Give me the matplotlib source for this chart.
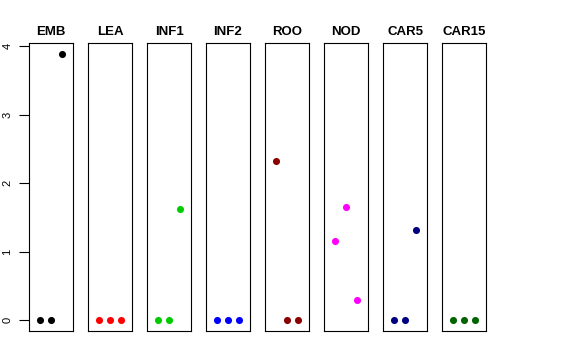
import matplotlib
matplotlib.use("Agg")
import matplotlib.pyplot as plt

plt.rcParams['font.family'] = ['Liberation Sans', 'DejaVu Sans']

categories = ["EMB", "LEA", "INF1", "INF2", "ROO", "NOD", "CAR5", "CAR15"]
values = {
    "EMB":   [0.0, 0.0, 3.89],
    "LEA":   [0.0, 0.0, 0.0],
    "INF1":  [0.0, 0.0, 1.62],
    "INF2":  [0.0, 0.0, 0.0],
    "ROO":   [2.33, 0.0, 0.0],
    "NOD":   [1.16, 1.66, 0.29],
    "CAR5":  [0.0, 0.0, 1.32],
    "CAR15": [0.0, 0.0, 0.0],
}
colors = ["#000000", "#FF0000", "#00CD00", "#0000FF", "#8B0000", "#FF00FF", "#000080", "#006400"]
yticks = [0, 1, 2, 3, 4]

fig = plt.figure(figsize=(5.76, 3.6), dpi=100)
W, H = 576, 360
left0, step, pw = 29, 59, 44
top, bottom = 43, 331
allv = [v for c in categories for v in values[c]]
vmin, vmax = min(allv), max(allv)
pad = (vmax - vmin) * 0.04
for i, (cat, col) in enumerate(zip(categories, colors)):
    x0 = left0 + i * step
    ax = fig.add_axes([x0 / W, 1 - bottom / H, pw / W, (bottom - top) / H])
    xs = list(range(1, len(values[cat]) + 1))
    ax.scatter(xs, values[cat], s=26, color=col, linewidths=0, zorder=3)
    ax.set_xlim(0, 4)
    ax.set_ylim(vmin - pad, vmax + pad)
    ax.set_xticks([])
    for sp in ax.spines.values():
        sp.set_linewidth(0.8)
        sp.set_color("#000000")
    ax.set_title(cat, fontsize=9.5, fontweight='bold', pad=6)
    if i == 0:
        ax.set_yticks(yticks)
        ax.set_yticklabels([str(t) for t in yticks])
        ax.tick_params(axis='y', length=7, width=0.8, pad=5, labelsize=8,
                       labelrotation=90)
        for lab in ax.get_yticklabels():
            lab.set_va('center')
    else:
        ax.set_yticks([])

fig.savefig("out.png", dpi=100)
